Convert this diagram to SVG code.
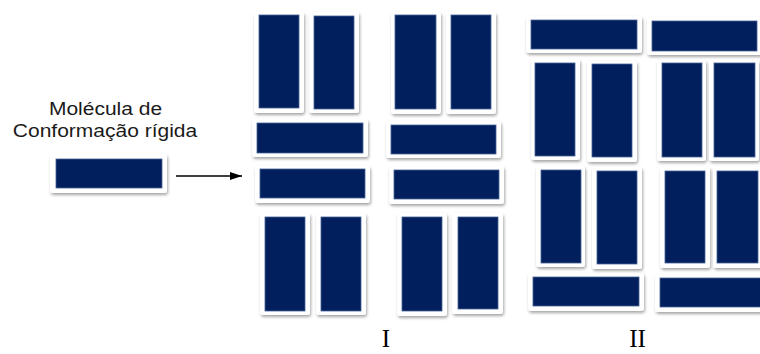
<svg xmlns="http://www.w3.org/2000/svg" width="760" height="354" viewBox="0 0 760 354">
  <defs>
    <filter id="shadow" x="-20%" y="-20%" width="140%" height="140%">
      <feDropShadow dx="1" dy="2" stdDeviation="1.4" flood-color="#000" flood-opacity="0.35"/>
    </filter>
    <marker id="arrowhead" markerWidth="12" markerHeight="8" refX="12" refY="4" orient="auto" markerUnits="userSpaceOnUse">
      <path d="M0,0 L12,4 L0,8 Z" fill="#000"/>
    </marker>
  </defs>
  <style>
    .frame { fill: #ffffff; filter: url(#shadow); }
    .core { fill: #001f5c; stroke: #4a6398; stroke-width: 0.8; }
    .caption { font-family: "Liberation Sans", Arial, sans-serif; font-size: 21px; fill: #1a1a1a; text-anchor: middle; }
    .roman { font-family: "Liberation Serif", "Times New Roman", serif; font-size: 25px; fill: #000; text-anchor: middle; }
    .link { stroke: #000; stroke-width: 1.4; fill: none; }
  </style>

  <rect width="760" height="354" fill="#ffffff"/>

  <!-- caption for the isolated molecule -->
  <g id="caption">
    <text class="caption" transform="translate(105.5,115) scale(1,0.88)">Molécula de</text>
    <text class="caption" transform="translate(105,136.7) scale(1,0.88)">Conformação rígida</text>
  </g>

  <!-- isolated rigid molecule -->
  <g id="molecule">
    <rect class="frame" x="50" y="154" width="117" height="39" rx="3"/>
    <rect class="core" x="56" y="159" width="106" height="29"/>
  </g>

  <!-- connectors -->
  <g id="connectors">
    <line class="link" x1="176" y1="176" x2="242" y2="176" marker-end="url(#arrowhead)"/>
  </g>

  <!-- packing I -->
  <g id="packing-I">
    <g id="I-1"><rect class="frame" x="254" y="12" width="50" height="101" rx="3"/><rect class="core" x="259" y="15" width="40" height="93"/></g>
    <g id="I-2"><rect class="frame" x="309" y="12" width="50" height="101" rx="3"/><rect class="core" x="314" y="16" width="40" height="93"/></g>
    <g id="I-3"><rect class="frame" x="391" y="12" width="50" height="102" rx="3"/><rect class="core" x="395" y="15" width="41" height="94"/></g>
    <g id="I-4"><rect class="frame" x="446" y="12" width="50" height="102" rx="3"/><rect class="core" x="451" y="15" width="40" height="94"/></g>
    <g id="I-5"><rect class="frame" x="252" y="119" width="116" height="38" rx="3"/><rect class="core" x="257" y="123" width="106" height="30"/></g>
    <g id="I-6"><rect class="frame" x="386" y="121" width="115" height="37" rx="3"/><rect class="core" x="391" y="125" width="105" height="29"/></g>
    <g id="I-7"><rect class="frame" x="255" y="166" width="115" height="37" rx="3"/><rect class="core" x="260" y="169" width="105" height="29"/></g>
    <g id="I-8"><rect class="frame" x="389" y="166" width="115" height="38" rx="3"/><rect class="core" x="394" y="170" width="105" height="29"/></g>
    <g id="I-9"><rect class="frame" x="260" y="213" width="50" height="102" rx="3"/><rect class="core" x="265" y="217" width="40" height="94"/></g>
    <g id="I-10"><rect class="frame" x="316" y="213" width="50" height="102" rx="3"/><rect class="core" x="321" y="217" width="40" height="94"/></g>
    <g id="I-11"><rect class="frame" x="397" y="213" width="50" height="103" rx="3"/><rect class="core" x="402" y="217" width="40" height="94"/></g>
    <g id="I-12"><rect class="frame" x="452" y="213" width="51" height="101" rx="3"/><rect class="core" x="458" y="217" width="40" height="92"/></g>
  </g>

  <!-- packing II -->
  <g id="packing-II">
    <g id="II-1"><rect class="frame" x="526" y="16" width="116" height="37" rx="3"/><rect class="core" x="531" y="20" width="106" height="29"/></g>
    <g id="II-2"><rect class="frame" x="647" y="17" width="116" height="38" rx="3"/><rect class="core" x="652" y="21" width="105" height="30"/></g>
    <g id="II-3"><rect class="frame" x="531" y="59" width="49" height="101" rx="3"/><rect class="core" x="535" y="63" width="40" height="93"/></g>
    <g id="II-4"><rect class="frame" x="587" y="61" width="50" height="101" rx="3"/><rect class="core" x="592" y="64" width="40" height="93"/></g>
    <g id="II-5"><rect class="frame" x="657" y="60" width="49" height="101" rx="3"/><rect class="core" x="662" y="63" width="40" height="94"/></g>
    <g id="II-6"><rect class="frame" x="709" y="60" width="50" height="101" rx="3"/><rect class="core" x="714" y="63" width="41" height="94"/></g>
    <g id="II-7"><rect class="frame" x="536" y="166" width="49" height="101" rx="3"/><rect class="core" x="541" y="170" width="40" height="93"/></g>
    <g id="II-8"><rect class="frame" x="592" y="167" width="50" height="102" rx="3"/><rect class="core" x="597" y="171" width="40" height="93"/></g>
    <g id="II-9"><rect class="frame" x="660" y="167" width="50" height="101" rx="3"/><rect class="core" x="665" y="171" width="40" height="92"/></g>
    <g id="II-10"><rect class="frame" x="713" y="167" width="50" height="101" rx="3"/><rect class="core" x="717" y="171" width="41" height="92"/></g>
    <g id="II-11"><rect class="frame" x="528" y="273" width="116" height="38" rx="3"/><rect class="core" x="533" y="277" width="106" height="29"/></g>
    <g id="II-12"><rect class="frame" x="655" y="274" width="116" height="38" rx="3"/><rect class="core" x="660" y="278" width="106" height="29"/></g>
  </g>

  <!-- packing labels -->
  <g id="labels">
    <text class="roman" x="386" y="347">I</text>
    <text class="roman" x="637.5" y="347">II</text>
  </g>
</svg>
